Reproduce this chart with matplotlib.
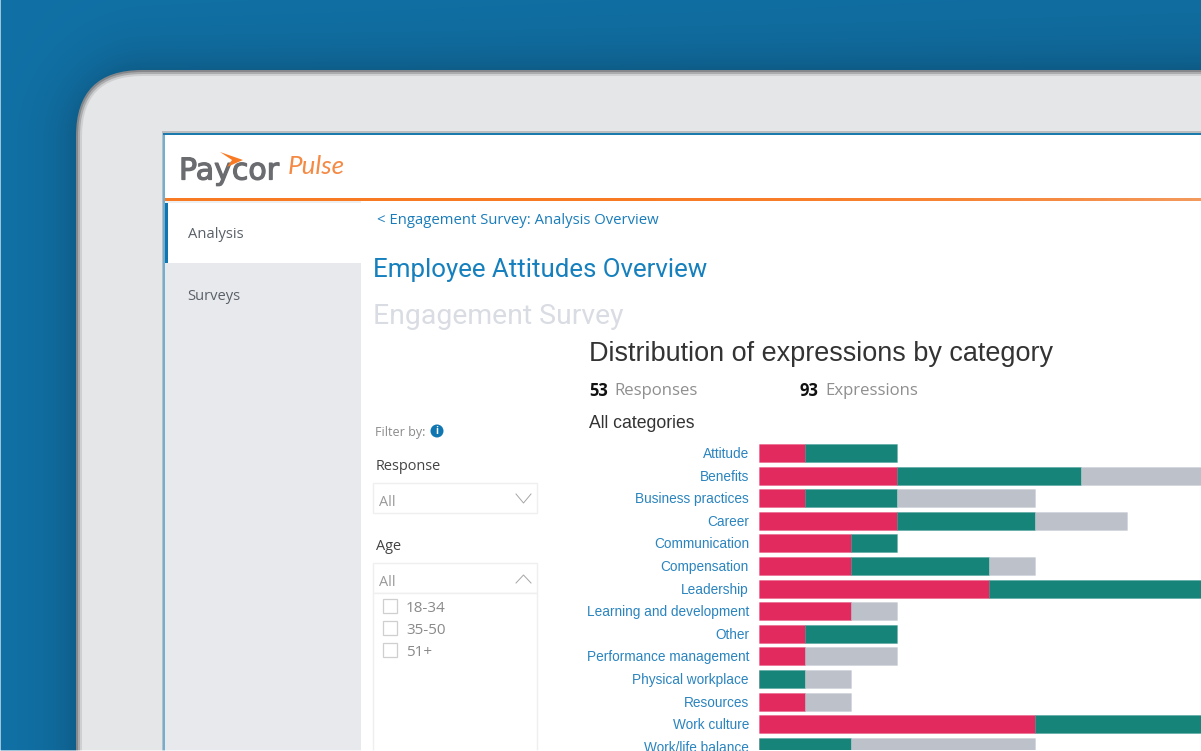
import numpy as np
import matplotlib
matplotlib.use("Agg")
import matplotlib.pyplot as plt
import matplotlib.patheffects as pe
from matplotlib.colors import to_rgb, to_rgba
from matplotlib.patches import FancyBboxPatch, Rectangle, Polygon, Circle
from matplotlib.transforms import ScaledTranslation

# Expressions per category, clipped on the right side in the screenshot
categories = [
    "Attitude", "Benefits", "Business practices", "Career", "Communication",
    "Compensation", "Leadership", "Learning and development", "Other",
    "Performance management", "Physical workplace", "Resources",
    "Work culture", "Work/life balance",
]
expr_red = [1, 3, 1, 3, 2, 2, 5, 2, 1, 1, 0, 1, 6, 0]
expr_green = [2, 4, 2, 3, 1, 3, 6, 0, 2, 0, 1, 0, 6, 2]
expr_grey = [0, 3, 3, 2, 0, 1, 0, 1, 0, 2, 1, 1, 0, 4]

age_options = ["18-34", "35-50", "51+"]

W, H = 1201, 751
BLUE = "#1a7dbb"
RED = "#e22a5f"
GREEN = "#17847a"
GREY = "#bdc1ca"
ORANGE = "#f97a22"
SANS = "Liberation Sans"
UI = "Open Sans"

fig = plt.figure(figsize=(W / 100, H / 100), dpi=100)
bg = fig.add_axes([0, 0, 1, 1])
bg.axis("off")


def txt(x, y, s, px, color, ax=bg, **kw):
    kw.setdefault("family", UI)
    kw.setdefault("va", "center")
    return ax.text(x, y + 2, s, fontsize=px * 0.72, color=color, **kw)


# blue backdrop, darker towards the tablet edge
yy, xx = np.mgrid[0:H, 0:W]
dx = np.clip(146 - xx, 0, None)
dy = np.clip(140 - yy, 0, None)
dist = np.clip(np.hypot(dx, dy) - 70, 0, None)
shade = 0.17 * np.exp(-dist / 26) + 0.03 * (xx / W)
base = np.array([17, 113, 166]) / 255
backdrop = base[None, None, :] * (1 - shade[..., None])
bg.imshow(backdrop, extent=(0, W, H, 0), aspect="auto", zorder=0)

# tablet frame, stacked from the dark rim inwards
for inset, col in [(0, "#85878a"), (2, "#a9abad"), (4, "#cfd0d2"), (6, "#e5e6e8")]:
    r = 66 - inset
    bg.add_patch(FancyBboxPatch(
        (76 + inset + r, 70 + inset + r), 1400, 1000,
        boxstyle=f"round,pad={r},rounding_size={r}",
        fc=col, ec="none", zorder=1,
    ))
bg.add_patch(Rectangle((0, 0), 1, H, fc="#9cc3da", ec="none", zorder=2))

# screen
bg.add_patch(Rectangle((162, 131), 1100, 700, fc="#bcbdbf", ec="none", zorder=2))
bg.add_patch(Rectangle((163, 133), 1100, 700, fc="#1a7aae", ec="none", zorder=2))
bg.add_patch(Rectangle((165, 135), 1100, 700, fc="white", ec="none", zorder=2))
bg.add_patch(Rectangle((163, 135), 2, 625, fc="#6fb0d2", ec="none", zorder=2))

# orange rule fading to the right
rule = np.linspace(0, 1, 256)[None, :, None]
c0 = np.array(to_rgb(ORANGE))
c1 = np.array(to_rgb("#f39a5e"))
bg.imshow(c0 * (1 - rule ** 4) + c1 * rule ** 4, extent=(165, W, 201, 198), aspect="auto", zorder=3)
bg.set_xlim(0, W)
bg.set_ylim(H, 0)

# sidebar
bg.add_patch(Rectangle((165, 201), 196, 2, fc="#eeeff1", ec="none", zorder=3))
bg.add_patch(Rectangle((165, 263), 196, 500, fc="#e8e9ed", ec="none", zorder=3))
bg.add_patch(Rectangle((165, 203), 3, 60, fc="#0f76b2", ec="none", zorder=3))
txt(188, 232.5, "Analysis", 14.7, "#5a6068", zorder=4)
txt(187, 294.5, "Surveys", 14.7, "#5a6068", zorder=4)

# logo
paycor = txt(179, 169, "Paycor", 30, "#6b6c70", family="DejaVu Sans", zorder=4)
paycor.set_path_effects([pe.withStroke(linewidth=0.9, foreground="#6b6c70")])
bg.add_patch(Polygon([(220, 152), (243, 160), (227, 167), (232, 160)], fc=ORANGE, ec="none", zorder=5))
txt(288, 165, "Pulse", 26, "#f58a45", family="Lato", style="italic", zorder=4)

# page headings
txt(377, 218.5, "< Engagement Survey: Analysis Overview", 14.9, BLUE, zorder=4)
txt(373, 268, "Employee Attitudes Overview", 25.9, "#1580bd", family="Roboto", zorder=4)
txt(373, 315, "Engagement Survey", 28.4, "#d9dce2", family="Roboto", zorder=4)
txt(589, 352, "Distribution of expressions by category", 27, "#333333", family=SANS, zorder=4)
txt(589, 389, "53", 16.5, "#111111", weight="bold", zorder=4)
txt(614, 389, "Responses", 16.8, "#8f8f8f", zorder=4)
txt(800, 389, "93", 16.5, "#111111", weight="bold", zorder=4)
txt(825, 389, "Expressions", 16.7, "#8f8f8f", zorder=4)
txt(589, 422, "All categories", 17.6, "#333333", family=SANS, zorder=4)

# filter panel
txt(375, 430.5, "Filter by:", 12.5, "#8a8a8a", zorder=4)
bg.add_patch(Circle((437, 431), 6.5, fc="#0f76b2", ec="none", zorder=4))
txt(437, 429, "i", 10, "white", ha="center", weight="bold", zorder=5)
txt(376, 465, "Response", 14.5, "#444444", zorder=4)
txt(376, 545, "Age", 14.5, "#444444", zorder=4)
for top, bottom in [(483, 513), (563, 593), (593, 760)]:
    bg.add_patch(Rectangle((372.5, top), 164.5, bottom - top, fc="white", ec="#efefef", lw=1, zorder=4))
txt(379, 500.5, "All", 14.5, "#999999", zorder=5)
txt(379, 580.5, "All", 14.5, "#999999", zorder=5)
bg.plot([516, 523.5, 531], [494, 503, 494], color="#a5a5a5", lw=0.7, zorder=5)
bg.plot([516, 523.5, 531], [583, 575, 583], color="#a5a5a5", lw=0.7, zorder=5)
for i, opt in enumerate(age_options):
    cy = 606 + 22 * i
    bg.add_patch(Rectangle((382.5, cy - 7), 14, 14, fc="white", ec="#cfcfcf", lw=0.9, zorder=5))
    txt(406, cy + 0.5, opt, 15.3, "#8a8a8a", zorder=5)

bg.add_patch(Rectangle((0, 749.5), W, 1.5, fc="white", alpha=0.6, ec="none", zorder=6))

# bars, one expression is 46 px wide
ax = fig.add_axes([758.6 / W, 1 - 749.5 / H, (W - 758.6) / W, (749.5 - 441) / H])
ax.patch.set_alpha(0)
y = np.arange(len(categories))
red = np.array(expr_red)
green = np.array(expr_green)
grey = np.array(expr_grey)
ax.barh(y, red, height=0.8, color=RED, edgecolor=to_rgba(RED, 0.3), linewidth=0.6)
ax.barh(y, green, left=red, height=0.8, color=GREEN, edgecolor=to_rgba(GREEN, 0.3), linewidth=0.6)
ax.barh(y, grey, left=red + green, height=0.8, color=GREY, edgecolor=to_rgba(GREY, 0.3), linewidth=0.6)
ax.set_xlim(0, (W - 758.6) / 46)
ax.set_ylim((749.5 - 453) / 22.6, (441 - 453) / 22.6)
ax.set_xticks([])
ax.set_yticks(y, categories, family=SANS, fontsize=13.6 * 0.72, color="#2a84bf")
ax.tick_params(axis="y", length=0, pad=7)
up_half = ScaledTranslation(0, 0.5 / 100, fig.dpi_scale_trans)
for label in ax.get_yticklabels():
    label.set_transform(label.get_transform() + up_half)
for spine in ax.spines.values():
    spine.set_visible(False)

fig.savefig("out.png", dpi=100)
